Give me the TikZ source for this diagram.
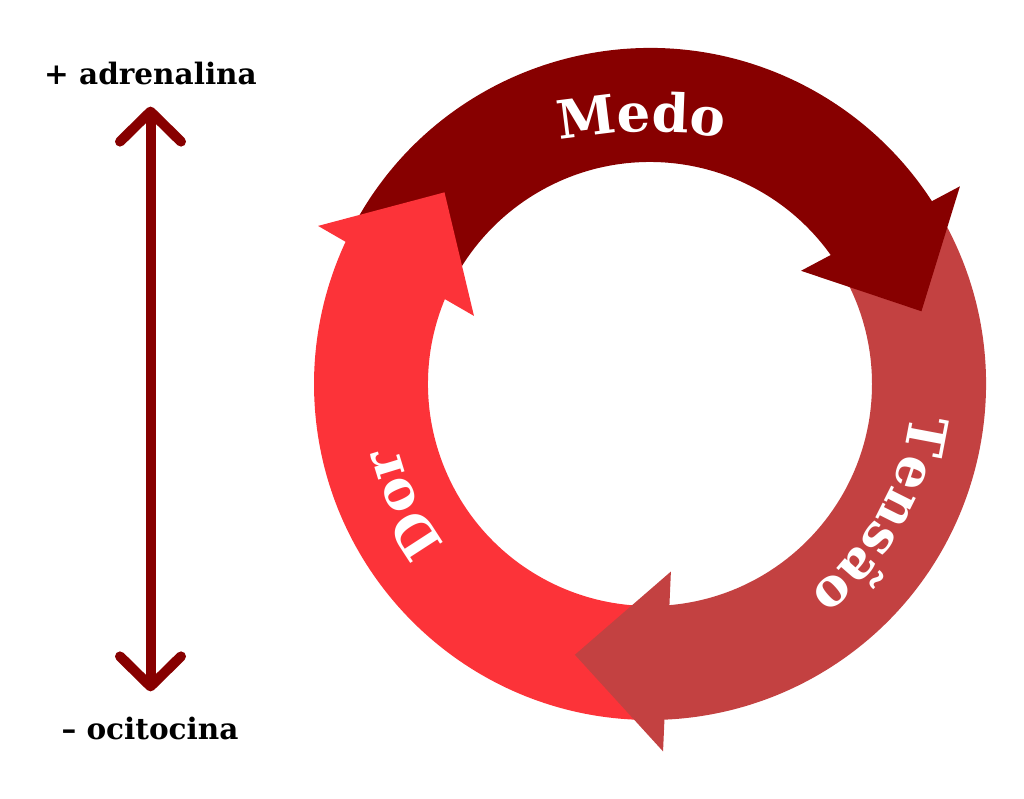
\documentclass[tikz,border=0pt]{standalone}
\usepackage{fontspec}
\setmainfont{DejaVu Serif}
\usetikzlibrary{arrows.meta,calc,decorations.text}

\definecolor{medored}{HTML}{870000}
\definecolor{tensaored}{HTML}{C34141}
\definecolor{dorred}{HTML}{FC3339}
\newcommand{\arcfont}{\bfseries\fontsize{53}{58}\selectfont}

\begin{document}
\begin{tikzpicture}[x=1pt,y=1pt,
	arclabel/.style={decorate,decoration={text along path,text align=center,text color=white,text={|\arcfont|#1}}},
	sidelabel/.style={font=\bfseries\fontsize{29.5}{36}\selectfont,inner sep=0pt,anchor=base},
	updown/.style={draw=medored,line width=10pt,{Straight Barb[length=30pt,width=61pt,round]}-{Straight Barb[length=30pt,width=61pt,round]}}]
	\useasboundingbox (0,0) rectangle (1024,798);
	\coordinate (C) at (650,414);

	% shafts of the cycle
	\fill[medored] ($(C)+(153:336)$) arc[start angle=153,end angle=32,radius=336] -- ($(C)+(32:222)$) arc[start angle=32,end angle=153,radius=222] -- cycle;
	\fill[tensaored] ($(C)+(31:336)$) arc[start angle=31,end angle=-88.5,radius=336] -- ($(C)+(-88.5:222)$) arc[start angle=-88.5,end angle=31,radius=222] -- cycle;
	\fill[dorred] ($(C)+(-89.5:336)$) arc[start angle=-89.5,end angle=-206,radius=336] -- ($(C)+(-206:222)$) arc[start angle=-206,end angle=-89.5,radius=222] -- cycle;

	% heads
	\fill[medored] ($(C)+(34:278)+(28:90)$) -- ($(C)+(15:281)$) -- ($(C)+(34:278)-(28:90)$) -- cycle;
	\fill[tensaored] ($(C)+(-86.5:278)+(-92.5:90)$) -- ($(C)+(-105.5:281)$) -- ($(C)+(-86.5:278)-(-92.5:90)$) -- cycle;
	\fill[dorred] ($(C)+(156:278)+(150:90)$) -- ($(C)+(137:281)$) -- ($(C)+(156:278)-(150:90)$) -- cycle;

	% labels on the ring
	\path[arclabel={Medo}] ($(C)+(0,-248)+(113:500)$) arc[start angle=113,end angle=69,radius=500];
	\path[arclabel={Tensão}] ($(C)+(10:262)$) arc[start angle=10,end angle=-69,radius=262];
	\path[arclabel={Dor}] ($(C)+(246:260)$) arc[start angle=246,end angle=166,radius=260];

	% hormones
	\node[sidelabel] (adr) at (150.5,713) {+ adrenalina};
	\node[sidelabel] (oci) at (150,59) {– ocitocina};
	\draw[updown,shorten <=21pt,shorten >=25pt] (adr.south) -- (adr.south |- oci.north);
\end{tikzpicture}
\end{document}
